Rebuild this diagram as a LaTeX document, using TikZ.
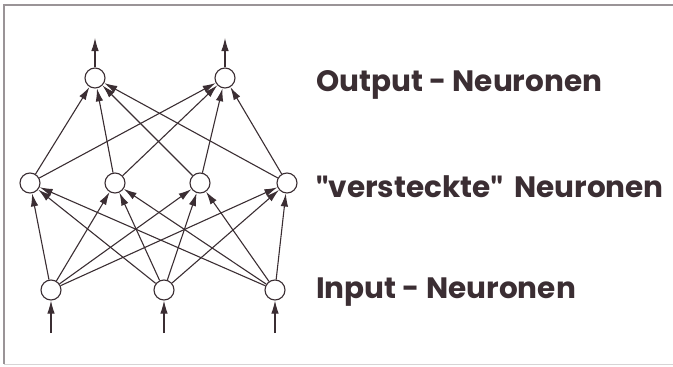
\documentclass[tikz,border=0pt]{standalone}
\usepackage{fontspec}
\setmainfont{Poppins}[BoldFont={* Bold}]
\newfontfamily\qfont{Lato}[BoldFont={* Black}]
\usetikzlibrary{arrows.meta}
\definecolor{ink}{HTML}{3B2E33}
\definecolor{frame}{HTML}{9A9497}
\newcommand{\qq}{{\qfont"}}
\tikzset{
  neuron/.style={circle,draw=ink,line width=1.1pt,minimum size=20pt,inner sep=0pt,fill=white},
  conn/.style={draw=ink,line width=1.1pt,-{Latex[length=13pt,width=7.5pt]}},
  lab/.style={anchor=base west,text=ink,font=\bfseries\fontsize{29.5}{34}\selectfont,inner sep=0pt}
}
\begin{document}
\begin{tikzpicture}[x=1pt,y=-1pt]
\useasboundingbox (0,0) rectangle (673,367);
\draw[frame,line width=1.2pt] (673,5) -- (4,5) -- (4,364);
\draw[frame!40,line width=1pt] (4,364) -- (673,364);
% nodes
\node[neuron] (o1) at (95,78) {};
\node[neuron] (o2) at (225,78) {};
\node[neuron] (h1) at (30,183) {};
\node[neuron] (h2) at (115,183) {};
\node[neuron] (h3) at (200,183) {};
\node[neuron] (h4) at (287,183) {};
\node[neuron] (i1) at (51,290) {};
\node[neuron] (i2) at (164,290) {};
\node[neuron] (i3) at (275,290) {};
\coordinate (x1) at (51,333);
\coordinate (x2) at (164,333);
\coordinate (x3) at (275,333);
\coordinate (y1) at (95,38);
\coordinate (y2) at (225,38);
% connectors
\foreach \i in {1,2,3}{\draw[conn] (x\i) -- (i\i);}
\foreach \i in {1,2,3}{\foreach \h in {1,2,3,4}{\draw[conn] (i\i) -- (h\h);}}
\foreach \h in {1,2,3,4}{\foreach \o in {1,2}{\draw[conn] (h\h) -- (o\o);}}
\foreach \o in {1,2}{\draw[conn] (o\o) -- (y\o);}
% labels
\node[lab] (lo) at (316,91) {Output - Neuronen};
\node[lab] (lh) at (316,197) {\qq versteckte\qq\ \,Neuronen};
\node[lab] (li) at (316,298) {Input - Neuronen};
\end{tikzpicture}
\end{document}
